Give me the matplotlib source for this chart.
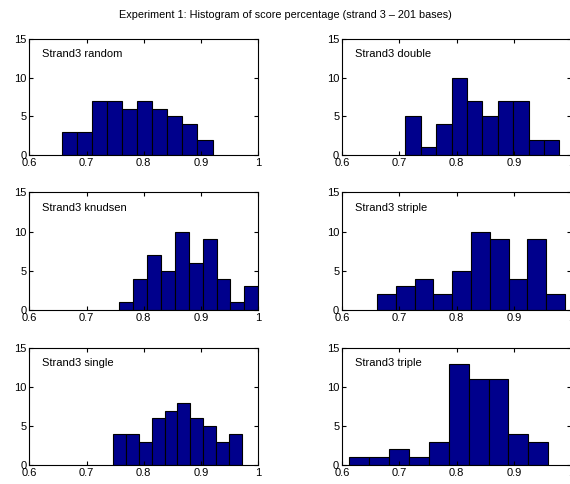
import numpy as np
import matplotlib
matplotlib.use("Agg")
import matplotlib.pyplot as plt

plt.rcParams['font.family'] = ['Liberation Sans', 'DejaVu Sans']
plt.rcParams['font.size'] = 8

# histogram counts (10 bins each)
names = ["Strand3 random", "Strand3 double", "Strand3 knudsen",
         "Strand3 striple", "Strand3 single", "Strand3 triple"]
bin_lo = [0.6576, 0.7108, 0.7566, 0.6612, 0.7467, 0.6122]
bin_hi = [0.9200, 0.9796, 1.0000, 0.9895, 0.9709, 0.9604]
counts = [
    [3, 3, 7, 7, 6, 7, 6, 5, 4, 2],
    [5, 1, 4, 10, 7, 5, 7, 7, 2, 2],
    [1, 4, 7, 5, 10, 6, 9, 4, 1, 3],
    [2, 3, 4, 2, 5, 10, 9, 4, 9, 2],
    [4, 4, 3, 6, 7, 8, 6, 5, 3, 4],
    [1, 1, 2, 1, 3, 13, 11, 11, 4, 3],
]
xticks = [0.6, 0.7, 0.8, 0.9, 1.0]
xticklabels = ["0.6", "0.7", "0.8", "0.9", "1"]
yticks = [0, 5, 10, 15]

fig = plt.figure(figsize=(5.70, 4.84), dpi=100)
fig.text(0.5, 0.968, "Experiment 1: Histogram of score percentage (strand 3 \u2013 201 bases)",
         ha='center', va='center', fontsize=7.8)

lefts = [0.0514, 0.600]
rows = [(0.6798, 0.2397), (0.3595, 0.2430), (0.0393, 0.2410)]

for i in range(6):
    r, c = divmod(i, 2)
    ax = fig.add_axes([lefts[c], rows[r][0], 0.4018, rows[r][1]])
    edges = np.linspace(bin_lo[i], bin_hi[i], len(counts[i]) + 1)
    centers = (edges[:-1] + edges[1:]) / 2
    ax.bar(centers, counts[i], width=edges[1] - edges[0],
           color='#00008c', edgecolor='black', linewidth=0.8)
    ax.set_xlim(0.6, 1.0)
    ax.set_ylim(0, 15)
    ax.set_xticks(xticks)
    ax.set_xticklabels(xticklabels)
    ax.set_yticks(yticks)
    ax.tick_params(direction='in', top=True, right=True, length=3, pad=2, labelsize=8)
    ax.text(0.623, 13.05, names[i], ha='left', va='center', fontsize=8)
    for s in ax.spines.values():
        s.set_linewidth(0.8)

plt.savefig("out.png", dpi=100)
